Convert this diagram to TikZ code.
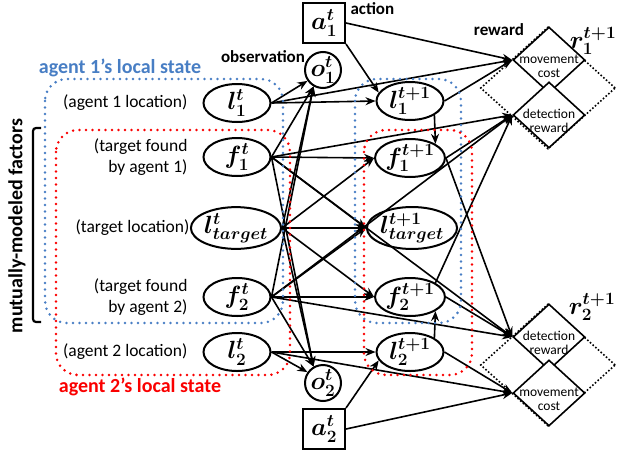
\documentclass[tikz,border=0pt]{standalone}
\usepackage{fontspec}
\setmainfont{Carlito}
\usepackage{bm}
\usetikzlibrary{shapes.geometric,arrows.meta,positioning}
\definecolor{agentblue}{RGB}{72,126,196}
\definecolor{agentred}{RGB}{250,0,0}
\tikzset{
  var/.style     ={ellipse,draw,line width=2pt,minimum width=67pt,
                   minimum height=38pt,inner sep=0pt,font=\fontsize{26}{26}\selectfont},
  obs/.style     ={circle,draw,line width=2pt,minimum size=36pt,
                   inner sep=0pt,font=\fontsize{25}{25}\selectfont},
  act/.style     ={rectangle,draw,line width=2pt,minimum width=42pt,
                   minimum height=40pt,inner sep=0pt,font=\fontsize{26}{26}\selectfont},
  rew/.style     ={diamond,draw,fill=white,line width=1.6pt,minimum width=72pt,
                   minimum height=66pt,inner sep=0pt},
  rewtext/.style ={align=center,font=\fontsize{13.5}{14}\selectfont,yshift=-6pt},
  rewgroup/.style={diamond,draw,dotted,line width=1.6pt,minimum width=135pt,
                   minimum height=122pt,inner sep=0pt},
  desc/.style    ={align=right,anchor=east,font=\fontsize{17.5}{21}\selectfont},
  heading/.style ={font=\bfseries\fontsize{17}{18}\selectfont},
  region/.style  ={rounded corners=22pt,line width=2.8pt,line cap=round,
                   dash pattern=on 0pt off 6.5pt},
  arr/.style     ={-{Stealth[length=10pt,width=8pt]},line width=1.6pt}
}

\begin{document}
\begin{tikzpicture}[x=1pt,y=-1pt]
  \useasboundingbox (0,0) rectangle (617,455);

  % Nodes, time t
  \node (a1t)  [act] at (324,23)  {$\bm{a_1^t}$};
  \node (o1t)  [obs] at (323,70)  {$\bm{o_1^t}$};
  \node (l1t)  [var] at (237,103) {$\bm{l_1^t}$};
  \node (f1t)  [var] at (237,157) {$\bm{f_1^t}$};
  \node (lTt)  [var, minimum width=80pt] at (236,228) {$\bm{l_{target}^t}$};
  \node (f2t)  [var] at (237,297) {$\bm{f_2^t}$};
  \node (l2t)  [var] at (237,352) {$\bm{l_2^t}$};
  \node (o2t)  [obs] at (323,383) {$\bm{o_2^t}$};
  \node (a2t)  [act] at (324,429) {$\bm{a_2^t}$};

  % Nodes, time t+1
  \node (l1t1) [var] at (410,101) {$\bm{l_1^{t+1}}$};
  \node (f1t1) [var] at (410,158) {$\bm{f_1^{t+1}}$};
  \node (lTt1) [var, minimum width=80pt] at (412,228) {$\bm{l_{target}^{t+1}}$};
  \node (f2t1) [var] at (410,297) {$\bm{f_2^{t+1}}$};
  \node (l2t1) [var] at (410,352) {$\bm{l_2^{t+1}}$};

  % Rewards
  \node (r1)  [rewgroup] at (548,88) {};
  \node (mc1) [rew, label={[rewtext]center:movement\\cost}] at (549,60) {};
  \node (dr1) [rew, label={[rewtext]center:detection\\reward}] at (549,115) {};
  \node (r2)  [rewgroup] at (548,365) {};
  \node (dr2) [rew, label={[rewtext]center:detection\\reward}] at (549,337) {};
  \node (mc2) [rew, label={[rewtext]center:movement\\cost}] at (549,393) {};
  \node (r1lbl) [font=\fontsize{24}{24}\selectfont] at (593,41)  {$\bm{r_1^{t+1}}$};
  \node (r2lbl) [font=\fontsize{24}{24}\selectfont] at (592,307) {$\bm{r_2^{t+1}}$};

  % Labels
  \node (actlbl) [heading, anchor=west] at (347,9) {action};
  \node (obslbl) [heading] at (263,57) {observation};
  \node (rewlbl) [heading] at (499,30) {reward};
  \node (d1) [desc] at (191,103) {(agent 1 location)};
  \node (d2) [desc] at (191,157) {(target found\\by agent 1)};
  \node (d3) [desc] at (193,228) {(target location)};
  \node (d4) [desc] at (191,297) {(target found\\by agent 2)};
  \node (d5) [desc] at (191,352) {(agent 2 location)};
  \node (ag1) [font=\bfseries\fontsize{20}{21}\selectfont, text=agentblue] at (120,68)
        {agent 1’s local state};
  \node (ag2) [font=\bfseries\fontsize{20}{21}\selectfont, text=agentred] at (140,387)
        {agent 2’s local state};
  \node (mm) [font=\bfseries\fontsize{20}{21}\selectfont, rotate=90] at (17,226)
        {mutually-modeled factors};
  \draw [line width=2.2pt, rounded corners=3pt] (41,128) -- (33,128) -- (33,322) -- (41,322);

  % Arrows
  \draw [arr] (a1t.east) -- (mc1.west);
  \draw [arr] (a1t.south east) -- (l1t1.165);
  \draw [arr] (a2t.east) -- (mc2.west);
  \draw [arr] (a2t.north east) -- (l2t1.195);

  \draw [arr] (l1t.east) -- (o1t.215);
  \draw [arr] (l1t.east) -- (l1t1.west);
  \draw [arr] (l1t.east) -- (mc1.west);

  \draw [arr] (f1t.east) -- (o1t.240);
  \draw [arr] (f1t.east) -- (f1t1.west);
  \draw [arr] (f1t.east) -- (dr1.west);
  \draw [arr] (f1t.east) -- (lTt1.west);
  \draw [arr] (f1t.east) -- (dr2.west);
  \draw [arr] (f1t.east) -- (o2t.120);

  \draw [arr] (lTt.east) -- (o1t.240);
  \draw [arr] (lTt.east) -- (o2t.120);
  \draw [arr] (lTt.east) -- (lTt1.west);
  \draw [arr] (lTt.east) -- (f1t1.west);
  \draw [arr] (lTt.east) -- (f2t1.west);

  \draw [arr] (f2t.east) -- (o2t.120);
  \draw [arr] (f2t.east) -- (f2t1.west);
  \draw [arr] (f2t.east) -- (dr2.west);
  \draw [arr] (f2t.east) -- (lTt1.west);
  \draw [arr] (f2t.east) -- (dr1.west);
  \draw [arr] (f2t.east) -- (o1t.240);

  \draw [arr] (l2t.east) -- (o2t.145);
  \draw [arr] (l2t.east) -- (l2t1.west);
  \draw [arr] (l2t.east) -- (mc2.west);

  \draw [arr] (l1t1.south east) -- (f1t1.north east);
  \draw [arr] (l1t1.east) -- (mc1.west);
  \draw [arr] (l2t1.north east) -- (f2t1.south east);
  \draw [arr] (l2t1.east) -- (mc2.west);
  \draw [arr] (f1t1.east) -- (dr1.west);
  \draw [arr] (f1t1.east) -- (dr2.west);
  \draw [arr] (f2t1.east) -- (dr2.west);
  \draw [arr] (f2t1.north east) -- (dr1.west);

  % Local states
  \draw [region, agentblue] (45,79) rectangle (283,323);
  \draw [region, agentblue] (355,79) rectangle (461,323);
  \draw [region, agentred] (56,130) rectangle (290,375);
  \draw [region, agentred] (364,130) rectangle (472,375);
\end{tikzpicture}
\end{document}
